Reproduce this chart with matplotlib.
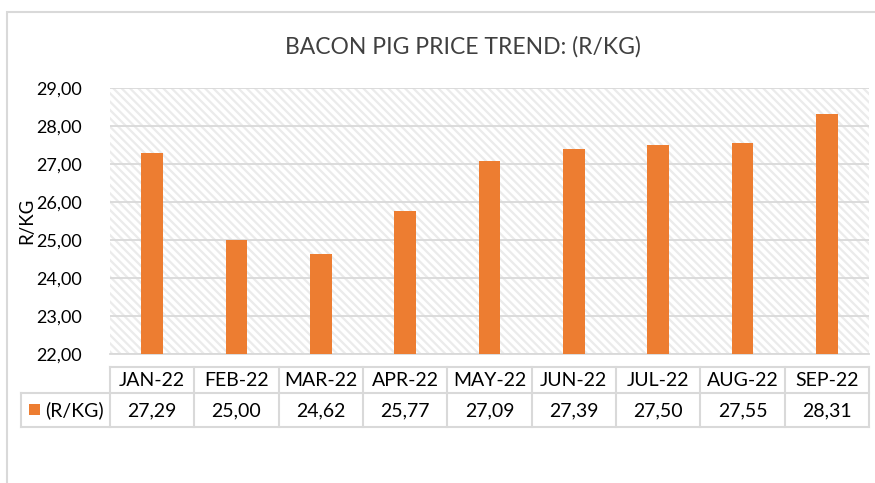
import matplotlib
matplotlib.use("Agg")
import matplotlib.pyplot as plt
from matplotlib.patches import Rectangle
from matplotlib.lines import Line2D

months = ["JAN-22", "FEB-22", "MAR-22", "APR-22", "MAY-22", "JUN-22", "JUL-22", "AUG-22", "SEP-22"]
prices = [27.29, 25.00, 24.62, 25.77, 27.09, 27.39, 27.50, 27.55, 28.31]
series_name = "(R/KG)"
title = "BACON PIG PRICE TREND: (R/KG)"
y_label = "R/KG"

plt.rcParams['font.family'] = ['Lato', 'DejaVu Sans']
plt.rcParams['hatch.color'] = "#DDDDDD"
plt.rcParams['hatch.linewidth'] = 1.6
W, H = 875, 483
fig = plt.figure(figsize=(W / 100, H / 100), dpi=100)
ORANGE = "#ED7D31"
GRID = "#D9D9D9"

def fx(px):
    return px / W

def fy(py):
    return 1 - py / H

# outer chart border
fig.add_artist(Rectangle((fx(7), fy(490)), fx(880 - 7), (490 - 12) / H, transform=fig.transFigure,
                         fill=False, edgecolor=GRID, lw=1.5))

L, R, T, B = 110, 869, 88, 354
ax = fig.add_axes([fx(L), fy(B), fx(R - L), (B - T) / H])
ax.set_xlim(-0.5, len(months) - 0.5)
ax.set_ylim(22, 29)
ax.add_patch(Rectangle((0, 0), 1, 1, transform=ax.transAxes, facecolor="white",
                       edgecolor="#EBEBEB", hatch="\\\\\\\\", lw=0, zorder=0))
ax.set_facecolor("white")
ax.set_yticks(range(22, 30))
ax.set_yticklabels([f"{v},00" for v in range(22, 30)], fontsize=13)
ax.yaxis.grid(True, color=GRID, lw=1.3, zorder=1)
ax.set_axisbelow(True)
ax.tick_params(axis='y', length=0, pad=20)
ax.set_xticks([])
for s in ["top", "right", "left"]:
    ax.spines[s].set_visible(False)
ax.spines["bottom"].set_color(GRID)
ax.spines["bottom"].set_linewidth(1.3)
x = list(range(len(months)))
ax.bar(x, [p - 22 for p in prices], bottom=22, width=0.26, color=ORANGE, zorder=3)
ax.set_ylabel(y_label, fontsize=13.5, labelpad=6)
ax.yaxis.set_label_coords((35 - L) / (R - L), 0.5)

fig.text(fx(463), fy(47), title, ha="center", va="center", fontsize=16.5, color="#404040")

# data table
colw = (R - L) / len(months)
def hline(y, x0, x1):
    fig.add_artist(Line2D([fx(x0), fx(x1)], [fy(y), fy(y)], transform=fig.transFigure, color=GRID, lw=1.5))
def vline(x0, y0, y1):
    fig.add_artist(Line2D([fx(x0), fx(x0)], [fy(y0), fy(y1)], transform=fig.transFigure, color=GRID, lw=1.5))

hline(367, L, R)
hline(393, 21, R)
hline(427, 21, R)
vline(21, 393, 427)
for i in range(len(months) + 1):
    vline(L + i * colw, 367, 427)
for i, (m, p) in enumerate(zip(months, prices)):
    cx = L + (i + 0.5) * colw
    fig.text(fx(cx), fy(380), m, ha="center", va="center", fontsize=14, color="black")
    fig.text(fx(cx), fy(410.5), f"{p:.2f}".replace(".", ","), ha="center", va="center", fontsize=14, color="black")
fig.add_artist(Rectangle((fx(29), fy(415)), fx(11), 11 / H, transform=fig.transFigure,
                         facecolor=ORANGE, edgecolor="none"))
fig.text(fx(45), fy(410.5), series_name, ha="left", va="center", fontsize=14, color="black")

fig.savefig("out.png", dpi=100, facecolor="white")
